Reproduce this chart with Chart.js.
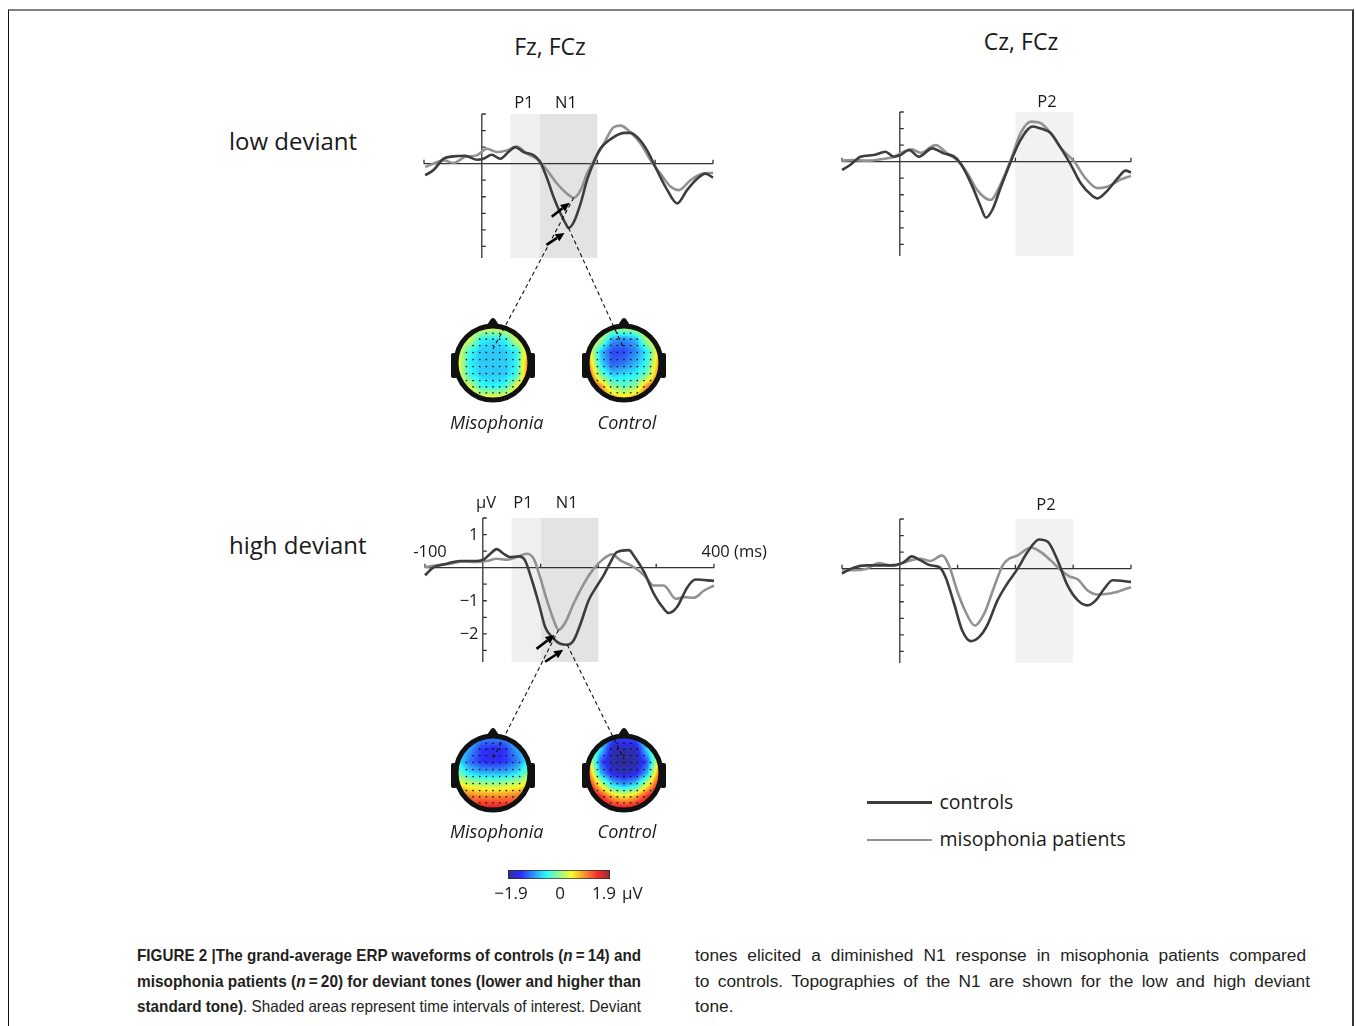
<!DOCTYPE html>
<html>
<head>
<meta charset="utf-8">
<script src="https://cdn.jsdelivr.net/npm/chart.js@4.4.1/dist/chart.umd.min.js"></script>
<style>
html, body { margin: 0; padding: 0; background: #fff; overflow: hidden; }
#fig { position: relative; width: 1356px; height: 1026px; overflow: hidden; font-family: "Open Sans", sans-serif; color: #1a1a1a; }
#frame { position: absolute; left: 8px; top: 9px; width: 1343px; height: 1100px; border-top: 2px solid #808080; border-left: 1px solid #111; border-right: 2px solid #333; }
canvas { position: absolute; }
.t { position: absolute; white-space: nowrap; line-height: 1; }
.cap { position: absolute; font-family: "Liberation Sans", Arial, sans-serif; font-size: 16.5px; line-height: 1; color: #231f20; white-space: nowrap; width: max-content; transform-origin: 0 0; }
.leg { position: absolute; height: 2.5px; }
</style>
</head>
<body>
<div id="fig"><div id="frame"></div></div>
<script>
// ERP waveforms, time in ms, amplitude in µV
// low deviant, Fz/FCz
const lowFzCtrlT = [-98,-84,-66,-49,-29,-9,3,17,32,46,58,72,90,101,113,124,136,147,150,159,171,182,194,205,222,246,257,269,286,303,321,338,355,373,387,400];
const lowFzCtrlV = [-0.35,-0.2,0.15,0.22,0.24,0.12,0.15,0.27,0.15,0.35,0.5,0.35,0.25,0.05,-0.45,-1.0,-1.5,-1.87,-1.94,-1.77,-1.2,-0.5,0.05,0.45,0.73,0.93,0.93,0.8,0.4,-0.2,-0.8,-1.2,-0.8,-0.45,-0.3,-0.42];
const lowFzMisoT = [-98,-84,-66,-49,-29,-9,9,26,43,61,78,95,113,130,147,159,171,182,194,211,228,240,257,275,292,309,327,341,361,382,400];
const lowFzMisoV = [-0.1,0,0.1,0.02,0.2,0.25,0.45,0.35,0.4,0.52,0.3,0.15,-0.2,-0.6,-0.9,-1.03,-0.8,-0.3,0.1,0.6,1.1,1.15,0.95,0.6,0.1,-0.3,-0.7,-0.8,-0.5,-0.3,-0.28];
// low deviant, Cz/FCz
const lowCzCtrlT = [-100,-86,-68,-45,-25,-10,1,16,33,56,76,94,105,123,140,149,160,175,192,209,230,244,261,279,296,313,331,342,360,377,391,400];
const lowCzCtrlV = [-0.25,-0.1,0.15,0.2,0.3,0.15,0.2,0.35,0.15,0.4,0.25,0.15,-0.05,-0.65,-1.36,-1.69,-1.46,-0.76,0,0.66,1.06,1.0,0.86,0.4,-0.1,-0.65,-1.0,-1.11,-0.86,-0.5,-0.27,-0.33];
const lowCzMisoT = [-100,-80,-57,-34,-10,7,21,36,62,82,99,117,134,157,175,192,209,227,244,261,279,302,319,342,360,383,400];
const lowCzMisoV = [0.03,0.05,0.03,0.07,0.15,0.3,0.37,0.27,0.5,0.25,0.05,-0.35,-0.86,-1.16,-0.66,0.05,0.86,1.21,1.16,0.86,0.4,0,-0.45,-0.8,-0.75,-0.53,-0.43];
// high deviant, Fz/FCz
const highFzCtrlT = [-100,-86,-62,-39,-16,1,13,24,36,47,62,73,85,97,108,120,134,146,157,169,183,198,209,221,232,253,261,279,296,313,322,336,354,368,400];
const highFzCtrlV = [-0.23,0,0.12,0.2,0.2,0.24,0.42,0.56,0.42,0.32,0.34,0.22,-0.38,-1.09,-1.8,-2.1,-2.3,-2.33,-2.2,-1.7,-0.99,-0.54,-0.23,0.17,0.47,0.53,0.37,-0.13,-0.79,-1.24,-1.37,-1.19,-0.59,-0.36,-0.4];
const highFzMisoT = [-100,-80,-57,-34,-10,7,24,42,59,76,88,99,111,123,131,143,157,175,192,209,224,238,261,279,296,313,334,348,365,383,400];
const highFzMisoV = [0.02,0.07,0.12,0.19,0.17,0.2,0.27,0.24,0.32,0.42,0.27,-0.28,-0.99,-1.6,-1.88,-1.65,-1.09,-0.48,-0.03,0.27,0.4,0.22,0.02,-0.23,-0.54,-0.54,-0.94,-0.89,-0.91,-0.69,-0.54];
// high deviant, Cz/FCz
const highCzCtrlT = [-100,-80,-57,-34,-10,7,21,36,53,68,79,94,108,123,137,151,169,186,204,221,241,256,273,290,308,325,339,354,368,400];
const highCzCtrlV = [-0.15,0.03,0.1,0.1,0.1,0.2,0.37,0.25,0.1,0.05,-0.25,-1.06,-1.87,-2.19,-2.07,-1.72,-0.96,-0.45,0,0.5,0.88,0.81,0.25,-0.5,-0.96,-1.11,-0.96,-0.6,-0.35,-0.4];
const highCzMisoT = [-100,-80,-57,-36,-16,1,19,36,53,73,85,99,114,130,146,163,178,189,204,227,244,261,279,293,308,325,342,360,383,400];
const highCzMisoV = [-0.05,-0.05,0,0.17,0.1,0.15,0.25,0.3,0.23,0.4,0.1,-0.66,-1.31,-1.72,-1.36,-0.56,0.1,0.3,0.4,0.64,0.5,0.25,-0.05,-0.23,-0.33,-0.66,-0.78,-0.76,-0.66,-0.56];

// axes
const xTicks = [-100, 100, 200, 300, 400];
const yTicks = [1.5, 1, 0.5, -0.5, -1, -1.5, -2, -2.5];
const yTickLabels = [[1, "1"], [-1, "\u22121"], [-2, "\u22122"]];
const X_MIN = -100, X_MAX = 400, Y_MIN = -2.85, Y_MAX = 1.5;
// time windows of interest (ms)
const p1Win = [50, 100];
const n1Win = [100, 200];
const p2Win = [200, 300];

// N1 topographies (µV), 7x7 grid, rows front (nose) to back, columns left to right
const lowMisoMap = [
  [0.5, 0.5, 0.4, 0.3, 0.4, 0.5, 0.6],
  [0.5, 0.3, -0.5, -0.6, -0.5, 0.3, 0.6],
  [0.5, -0.4, -0.7, -0.7, -0.7, -0.5, 0.8],
  [0.5, -0.5, -0.7, -0.7, -0.7, -0.5, 1.0],
  [0.5, -0.4, -0.7, -0.7, -0.7, -0.4, 1.1],
  [0.6, 0.3, -0.4, -0.5, -0.4, 0.4, 1.0],
  [0.7, 0.6, 0.5, 0.5, 0.5, 0.7, 0.9]
];
const lowCtrlMap = [
  [0.5, 0.5, 0.2, 0.1, 0.2, 0.5, 0.6],
  [0.5, 0.2, -0.9, -1.0, -0.8, 0.2, 0.6],
  [0.6, -0.7, -1.3, -1.3, -1.0, -0.5, 0.7],
  [0.9, -0.6, -1.2, -1.1, -0.8, -0.4, 0.9],
  [1.3, -0.1, -0.7, -0.6, -0.5, -0.1, 1.1],
  [1.4, 1.0, 0.0, -0.2, 0.0, 1.0, 1.3],
  [1.2, 1.2, 0.9, 0.6, 0.9, 1.2, 1.3]
];
const highMisoMap = [
  [-0.5, -0.6, -1.0, -1.0, -1.0, -0.6, -0.5],
  [-0.6, -0.9, -1.4, -1.5, -1.4, -0.9, -0.6],
  [-0.5, -1.1, -1.4, -1.5, -1.4, -1.1, -0.5],
  [-0.1, -0.6, -0.8, -0.8, -0.8, -0.6, -0.1],
  [0.6, 0.3, 0.2, 0.1, 0.2, 0.3, 0.6],
  [1.2, 1.1, 1.0, 1.0, 1.0, 1.1, 1.2],
  [1.5, 1.5, 1.6, 1.6, 1.6, 1.5, 1.5]
];
const highCtrlMap = [
  [0.2, -0.5, -1.2, -1.3, -1.2, -0.5, 0.2],
  [0.3, -0.6, -1.7, -1.8, -1.7, -0.6, 0.3],
  [0.6, -1.2, -1.8, -1.9, -1.8, -1.2, 0.6],
  [1.1, -0.8, -1.6, -1.7, -1.6, -0.8, 1.1],
  [1.6, 0.4, -0.6, -0.9, -0.6, 0.4, 1.6],
  [1.8, 1.5, 0.8, 0.5, 0.8, 1.5, 1.8],
  [1.9, 1.9, 1.7, 1.6, 1.7, 1.9, 1.9]
];
// electrode rows: [y position on head, number of electrodes]
const electrodeRows = [[0.85, 3], [0.68, 5], [0.5, 7], [0.3, 9], [0.1, 9], [-0.1, 9], [-0.3, 9], [-0.5, 9], [-0.68, 7], [-0.85, 5]];
const colorbarTicks = [[-1.9, "\u22121.9"], [0, "0"], [1.9, "1.9"]];
const CBAR_MIN = -1.9, CBAR_MAX = 1.9;

const DARK = "#3d3d3d", GRAY = "#929292";
const fig = document.getElementById("fig");

function label(text, x, y, size, opts) {
  opts = opts || {};
  const d = document.createElement("div");
  d.className = "t";
  d.textContent = text;
  d.style.fontSize = size + "px";
  d.style.top = (y - 0.53 * size) + "px";
  if (opts.align === "center") { d.style.left = x + "px"; d.style.transform = "translateX(-50%)"; }
  else if (opts.align === "right") { d.style.right = (1356 - x) + "px"; }
  else d.style.left = x + "px";
  if (opts.italic) d.style.fontStyle = "italic";
  fig.appendChild(d);
}

function addCanvas(left, top, w, h, z) {
  const c = document.createElement("canvas");
  c.width = w; c.height = h;
  c.style.left = left + "px"; c.style.top = top + "px";
  c.style.width = w + "px"; c.style.height = h + "px";
  if (z) c.style.zIndex = z;
  fig.appendChild(c);
  return c;
}

const erpAxes = {
  id: "erpAxes",
  beforeDatasetsDraw(chart, args, opts) {
    const { ctx, scales: { x, y } } = chart;
    const top = y.getPixelForValue(Y_MAX), bot = y.getPixelForValue(Y_MIN);
    ctx.save();
    opts.windows.forEach(w => {
      const a = x.getPixelForValue(w.range[0]), b = x.getPixelForValue(w.range[1]);
      ctx.fillStyle = w.color;
      ctx.fillRect(a, top, b - a, bot - top);
    });
    ctx.strokeStyle = "#333";
    ctx.lineWidth = 1.3;
    ctx.beginPath();
    const yz = y.getPixelForValue(0);
    ctx.moveTo(x.getPixelForValue(X_MIN), yz);
    ctx.lineTo(x.getPixelForValue(X_MAX), yz);
    xTicks.forEach(t => {
      const px = x.getPixelForValue(t);
      ctx.moveTo(px, yz); ctx.lineTo(px, yz - 4);
    });
    const xz = x.getPixelForValue(0);
    ctx.moveTo(xz, top); ctx.lineTo(xz, bot);
    yTicks.forEach(v => {
      const py = y.getPixelForValue(v);
      ctx.moveTo(xz, py); ctx.lineTo(xz + 4, py);
    });
    ctx.stroke();
    ctx.restore();
  }
};

const PAD = 20, PX_MS = 0.577, PX_UV = 33;
function erpPanel(x0, y0, ctrlT, ctrlV, misoT, misoV, windows) {
  const left = Math.round(x0 + X_MIN * PX_MS - PAD);
  const top = Math.round(y0 - Y_MAX * PX_UV - PAD);
  const w = Math.round((X_MAX - X_MIN) * PX_MS + 2 * PAD);
  const h = Math.round((Y_MAX - Y_MIN) * PX_UV + 2 * PAD);
  const c = addCanvas(left, top, w, h);
  const pts = (ts, vs) => ts.map((t, i) => ({ x: t, y: vs[i] }));
  return new Chart(c, {
    type: "line",
    data: {
      datasets: [
        { label: "controls", data: pts(ctrlT, ctrlV), borderColor: DARK, borderWidth: 2.6, pointRadius: 0, cubicInterpolationMode: "monotone", clip: false },
        { label: "misophonia patients", data: pts(misoT, misoV), borderColor: GRAY, borderWidth: 2.6, pointRadius: 0, cubicInterpolationMode: "monotone", clip: false }
      ]
    },
    options: {
      responsive: false, animation: false, events: [],
      layout: { padding: PAD },
      scales: {
        x: { type: "linear", min: X_MIN, max: X_MAX, display: false },
        y: { type: "linear", min: Y_MIN, max: Y_MAX, display: false }
      },
      plugins: { legend: { display: false }, tooltip: { enabled: false }, erpAxes: { windows: windows } }
    },
    plugins: [erpAxes]
  });
}

// jet colour map, softened a little like the printed maps
function jet(t) {
  t = Math.max(0, Math.min(1, t));
  const f = v => Math.max(0, Math.min(1, v));
  const c = [f(1.5 - Math.abs(4 * t - 3)), f(1.5 - Math.abs(4 * t - 2)), f(1.5 - Math.abs(4 * t - 1))];
  return c.map(v => Math.round(v * 0.8 * 255 + 0.2 * 225));
}

function sampleGrid(grid, u, v) {
  const n = grid.length - 1;
  const gc = (u + 1) / 2 * n, gr = (1 - v) / 2 * n;
  const c0 = Math.max(0, Math.min(n - 1, Math.floor(gc))), r0 = Math.max(0, Math.min(n - 1, Math.floor(gr)));
  const fc = gc - c0, fr = gr - r0;
  const top = grid[r0][c0] * (1 - fc) + grid[r0][c0 + 1] * fc;
  const bot = grid[r0 + 1][c0] * (1 - fc) + grid[r0 + 1][c0 + 1] * fc;
  return top * (1 - fr) + bot * fr;
}

const headMap = {
  id: "headMap",
  beforeDatasetsDraw(chart, args, opts) {
    const { ctx, scales: { x, y } } = chart;
    const cx = x.getPixelForValue(0), cy = y.getPixelForValue(0);
    const r = x.getPixelForValue(1) - cx;
    const x0 = Math.floor(cx - r), y0 = Math.floor(cy - r), s = Math.ceil(2 * r) + 1;
    const img = ctx.getImageData(x0, y0, s, s);
    for (let j = 0; j < s; j++) {
      for (let i = 0; i < s; i++) {
        const u = x.getValueForPixel(x0 + i + 0.5), v = y.getValueForPixel(y0 + j + 0.5);
        if (u * u + v * v > 1) continue;
        const val = sampleGrid(opts.grid, u, v);
        const c = jet((val - CBAR_MIN) / (CBAR_MAX - CBAR_MIN));
        const k = (j * s + i) * 4;
        img.data[k] = c[0]; img.data[k + 1] = c[1]; img.data[k + 2] = c[2]; img.data[k + 3] = 255;
      }
    }
    ctx.putImageData(img, x0, y0);
    ctx.save();
    ctx.fillStyle = "#111";
    // nose
    ctx.beginPath();
    ctx.moveTo(cx - 8, cy - r);
    ctx.lineTo(cx - 2, cy - r - 9);
    ctx.quadraticCurveTo(cx, cy - r - 11, cx + 2, cy - r - 9);
    ctx.lineTo(cx + 8, cy - r);
    ctx.closePath();
    ctx.fill();
    // ears
    [-1, 1].forEach(sd => {
      const ex = sd < 0 ? cx - r - 7 : cx + r + 1;
      ctx.beginPath();
      ctx.roundRect(ex, cy - 10, 6, 25, 2);
      ctx.fill();
    });
    // rim
    ctx.beginPath();
    ctx.arc(cx, cy, r + 2, 0, Math.PI * 2);
    ctx.lineWidth = 5;
    ctx.strokeStyle = "#111";
    ctx.stroke();
    ctx.restore();
  }
};

const electrodes = [];
electrodeRows.forEach(([ry, n]) => {
  for (let i = 0; i < n; i++) electrodes.push({ x: (i - (n - 1) / 2) * 0.19, y: ry });
});

function headPanel(cx, cy, grid) {
  const c = addCanvas(cx - 50, cy - 50, 100, 100);
  return new Chart(c, {
    type: "scatter",
    data: { datasets: [{ data: electrodes, pointRadius: 0.85, backgroundColor: "#111", borderWidth: 0 }] },
    options: {
      responsive: false, animation: false, events: [],
      layout: { padding: 15 },
      scales: {
        x: { type: "linear", min: -1, max: 1, display: false },
        y: { type: "linear", min: -1, max: 1, display: false }
      },
      plugins: { legend: { display: false }, tooltip: { enabled: false }, headMap: { grid: grid } }
    },
    plugins: [headMap]
  });
}

const colorbar = {
  id: "colorbar",
  beforeDatasetsDraw(chart) {
    const { ctx, scales: { x, y } } = chart;
    const a = x.getPixelForValue(CBAR_MIN), b = x.getPixelForValue(CBAR_MAX);
    const top = y.getPixelForValue(1), bot = y.getPixelForValue(0);
    for (let px = Math.floor(a); px < b; px++) {
      const c = jet((x.getValueForPixel(px + 0.5) - CBAR_MIN) / (CBAR_MAX - CBAR_MIN));
      ctx.fillStyle = "rgb(" + c.join(",") + ")";
      ctx.fillRect(px, top, 1, bot - top);
    }
    ctx.strokeStyle = "rgba(40,40,40,0.7)";
    ctx.lineWidth = 1;
    ctx.strokeRect(a + 0.5, top + 0.5, b - a - 1, bot - top - 1);
  }
};

// ---- build the figure ----
const lowWindows = [{ range: p1Win, color: "#efefef" }, { range: n1Win, color: "#e3e3e3" }];
const p2Windows = [{ range: p2Win, color: "#f2f2f2" }];
const chTL = erpPanel(482, 163.3, lowFzCtrlT, lowFzCtrlV, lowFzMisoT, lowFzMisoV, lowWindows);
const chTR = erpPanel(899.3, 161.7, lowCzCtrlT, lowCzCtrlV, lowCzMisoT, lowCzMisoV, p2Windows);
const chBL = erpPanel(482.7, 567.6, highFzCtrlT, highFzCtrlV, highFzMisoT, highFzMisoV, lowWindows);
const chBR = erpPanel(899.3, 568.3, highCzCtrlT, highCzCtrlV, highCzMisoT, highCzMisoV, p2Windows);

const hLM = headPanel(492.5, 362.5, lowMisoMap);
const hLC = headPanel(624.2, 362.5, lowCtrlMap);
const hHM = headPanel(492.5, 772.5, highMisoMap);
const hHC = headPanel(624.2, 772.5, highCtrlMap);

const cbCanvas = addCanvas(498, 860, 122, 29);
const cbChart = new Chart(cbCanvas, {
  type: "scatter",
  data: { datasets: [{ data: [] }] },
  options: {
    responsive: false, animation: false, events: [],
    layout: { padding: { left: 10, right: 10, top: 10, bottom: 10 } },
    scales: {
      x: { type: "linear", min: CBAR_MIN, max: CBAR_MAX, display: false },
      y: { type: "linear", min: 0, max: 1, display: false }
    },
    plugins: { legend: { display: false }, tooltip: { enabled: false } }
  },
  plugins: [colorbar]
});

// dashed links and arrows from the N1 peaks to the maps
const ov = addCanvas(0, 0, 1356, 1026, 5);
ov.style.pointerEvents = "none";
const octx = ov.getContext("2d");
function pagePt(chart, xv, yv) {
  return [chart.canvas.offsetLeft + chart.scales.x.getPixelForValue(xv), chart.canvas.offsetTop + chart.scales.y.getPixelForValue(yv)];
}
function peak(ts, vs) {
  let k = 0;
  vs.forEach((v, i) => { if (v < vs[k]) k = i; });
  return [ts[k], vs[k]];
}
function arrow(x1, y1, x2, y2) {
  const ang = Math.atan2(y2 - y1, x2 - x1), L = 9, W = 4.2;
  const bx = x2 - L * Math.cos(ang), by = y2 - L * Math.sin(ang);
  octx.beginPath(); octx.moveTo(x1, y1); octx.lineTo(bx, by);
  octx.lineWidth = 2.6; octx.strokeStyle = "#000"; octx.stroke();
  octx.beginPath(); octx.moveTo(x2, y2);
  octx.lineTo(bx + W * Math.sin(ang), by - W * Math.cos(ang));
  octx.lineTo(bx - W * Math.sin(ang), by + W * Math.cos(ang));
  octx.closePath(); octx.fillStyle = "#000"; octx.fill();
}
function links(chart, ctrlT, ctrlV, misoT, misoV, headMiso, headCtrl) {
  const pc = pagePt(chart, ...peak(ctrlT, ctrlV));
  const pm = pagePt(chart, ...peak(misoT, misoV));
  const em = pagePt(headMiso, 0, 0.4), ec = pagePt(headCtrl, 0, 0.4);
  octx.save();
  octx.setLineDash([4, 3]); octx.lineWidth = 1.1; octx.strokeStyle = "#111";
  octx.beginPath(); octx.moveTo(pm[0], pm[1]); octx.lineTo(em[0], em[1]);
  octx.moveTo(pc[0], pc[1]); octx.lineTo(ec[0], ec[1]); octx.stroke();
  octx.restore();
  arrow(pm[0] - 22, pm[1] + 19, pm[0] - 4, pm[1] + 5);
  arrow(pc[0] - 22, pc[1] + 17, pc[0] - 4, pc[1] + 5);
}
links(chTL, lowFzCtrlT, lowFzCtrlV, lowFzMisoT, lowFzMisoV, hLM, hLC);
links(chBL, highFzCtrlT, highFzCtrlV, highFzMisoT, highFzMisoV, hHM, hHC);

// ---- text ----
label("Fz, FCz", 550, 47.5, 23, { align: "center" });
label("Cz, FCz", 1021, 42, 23, { align: "center" });
label("low deviant", 229, 141.5, 24);
label("high deviant", 229, 546, 24);
label("P1", 524, 102.8, 16.5, { align: "center" });
label("N1", 566, 102.8, 16.5, { align: "center" });
label("P2", 1047, 101.7, 16.5, { align: "center" });
label("\u03bcV", 486, 502.5, 16.5, { align: "center" });
label("P1", 523, 502.5, 16.5, { align: "center" });
label("N1", 566.7, 502.5, 16.5, { align: "center" });
label("P2", 1046, 505, 16.5, { align: "center" });
label("-100", 430, 551.7, 16.5, { align: "center" });
label("400 (ms)", 701.5, 551.7, 16.5);
yTickLabels.forEach(([v, s]) => label(s, 478.5, chBL.canvas.offsetTop + chBL.scales.y.getPixelForValue(v), 16.5, { align: "right" }));
label("Misophonia", 496.7, 422.6, 18, { align: "center", italic: true });
label("Control", 627, 422.6, 18, { align: "center", italic: true });
label("Misophonia", 496.7, 831.6, 18, { align: "center", italic: true });
label("Control", 627, 831.6, 18, { align: "center", italic: true });
colorbarTicks.forEach(([v, s]) => {
  label(s, cbCanvas.offsetLeft + cbChart.scales.x.getPixelForValue(v) + (v > 0 ? -6 : v < 0 ? 3 : 1), 893.5, 17, { align: "center" });
});
label("\u03bcV", 622, 893.5, 17);

// legend
[[DARK, 802.7, "controls"], [GRAY, 840, "misophonia patients"]].forEach(([col, yy, txt]) => {
  const d = document.createElement("div");
  d.className = "leg";
  d.style.left = "866.5px"; d.style.width = "65px"; d.style.top = (yy - 1.25) + "px"; d.style.background = col;
  fig.appendChild(d);
  label(txt, 939.5, yy - 0.5, 19.5);
});

// caption
const capLeft = [
  '<b>FIGURE 2 |The grand-average ERP waveforms of controls (<i>n</i>\u2009=\u200914) and</b>',
  '<b>misophonia patients (<i>n</i>\u2009=\u200920) for deviant tones (lower and higher than</b>',
  '<b>standard tone)</b>. Shaded areas represent time intervals of interest. Deviant'
];
const capRight = [
  'tones elicited a diminished N1 response in misophonia patients compared',
  'to controls. Topographies of the N1 are shown for the low and high deviant',
  'tone.'
];
const capY = [955, 981, 1006.5];
function capLine(html, left, width, y, squeeze, size) {
  const d = document.createElement("div");
  d.className = "cap";
  d.innerHTML = html;
  if (size) d.style.fontSize = size + "px";
  d.style.left = left + "px";
  d.style.top = (y - 0.49 * (size || 16.5)) + "px";
  fig.appendChild(d);
  if (width) {
    const nat = d.getBoundingClientRect().width;
    if (squeeze || nat > width) {
      d.style.transform = "scaleX(" + (width / nat) + ")";
    } else {
      const gaps = (d.textContent.match(/ /g) || []).length;
      d.style.wordSpacing = ((width - nat) / gaps) + "px";
    }
  }
  return d;
}
capLeft.forEach((s, i) => capLine(s, 137, 504, capY[i], true));
capLine(capRight[0], 695, 611, capY[0], false, 17.3);
capLine(capRight[1], 695, 615, capY[1], false, 17.3);
capLine(capRight[2], 695, 0, capY[2], false, 17.3);
</script>
</body>
</html>
